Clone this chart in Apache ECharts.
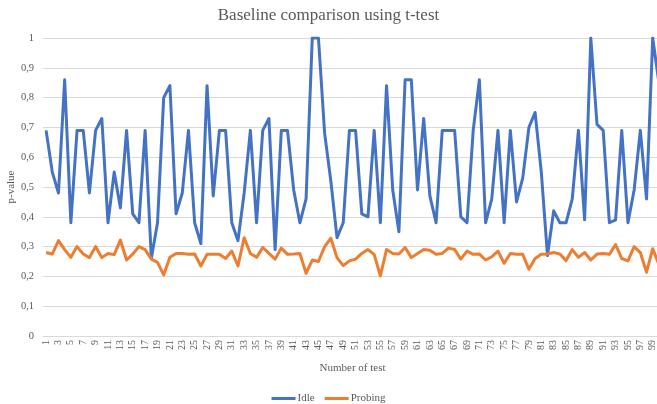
<!DOCTYPE html>
<html>
<head>
<meta charset="utf-8">
<script src="https://cdn.jsdelivr.net/npm/echarts@6/dist/echarts.min.js"></script>
<style>
html,body{margin:0;padding:0;background:#fff;overflow:hidden;}
#chart{width:657px;height:404px;}
</style>
</head>
<body>
<div id="chart"></div>
<script>
const categories = Array.from({length: 100}, (_, i) => String(i + 1));
const idle = [
0.69,0.55,0.48,0.86,0.38,0.69,0.69,0.48,0.69,0.73,
0.38,0.55,0.43,0.69,0.41,0.38,0.69,0.26,0.38,0.80,
0.84,0.41,0.48,0.69,0.38,0.31,0.84,0.47,0.69,0.69,
0.38,0.32,0.48,0.69,0.38,0.69,0.73,0.29,0.69,0.69,
0.49,0.38,0.46,1.00,1.00,0.68,0.52,0.33,0.38,0.69,
0.69,0.41,0.40,0.69,0.38,0.84,0.49,0.35,0.86,0.86,
0.49,0.73,0.47,0.38,0.69,0.69,0.69,0.40,0.38,0.69,
0.86,0.38,0.46,0.69,0.38,0.69,0.45,0.53,0.70,0.75,
0.55,0.27,0.42,0.38,0.38,0.46,0.69,0.39,1.00,0.71,
0.69,0.38,0.39,0.69,0.38,0.49,0.69,0.46,1.00,0.85
];
const probing = [
0.28,0.275,0.32,0.29,0.264,0.30,0.275,0.263,0.30,0.263,
0.277,0.273,0.322,0.255,0.275,0.30,0.29,0.258,0.247,0.205,
0.264,0.277,0.277,0.274,0.275,0.235,0.274,0.274,0.274,0.26,
0.285,0.235,0.33,0.277,0.264,0.297,0.277,0.258,0.295,0.274,
0.275,0.277,0.21,0.255,0.25,0.30,0.328,0.263,0.236,0.252,
0.258,0.277,0.29,0.274,0.202,0.29,0.277,0.275,0.297,0.263,
0.277,0.29,0.288,0.274,0.277,0.295,0.29,0.258,0.285,0.274,
0.275,0.255,0.266,0.285,0.244,0.277,0.274,0.274,0.224,0.26,
0.274,0.275,0.28,0.275,0.253,0.29,0.264,0.28,0.255,0.275,
0.277,0.274,0.307,0.26,0.252,0.30,0.28,0.214,0.293,0.24
];
const yTicks = ['0','0,1','0,2','0,3','0,4','0,5','0,6','0,7','0,8','0,9','1'];

const font = '"Liberation Serif", "Times New Roman", serif';
const txt = '#595959';
const chart = echarts.init(document.getElementById('chart'), null, {renderer: 'canvas'});
chart.setOption({
  animation: false,
  backgroundColor: '#fff',
  title: {
    text: 'Baseline comparison using t-test',
    left: 'center', top: 2,
    textStyle: {fontFamily: font, fontSize: 17, fontWeight: 'normal', color: txt}
  },
  legend: {
    top: 388, left: 'center',
    itemWidth: 24, itemHeight: 3, itemGap: 10,
    icon: 'rect',
    textStyle: {fontFamily: font, fontSize: 11, color: txt, padding: [0, 0, 0, -3]},
    data: ['Idle', 'Probing']
  },
  grid: {left: 43, right: -5, top: 38, bottom: 68, containLabel: false, outerBoundsMode: 'none'},
  xAxis: {
    type: 'category',
    data: categories,
    boundaryGap: true,
    name: 'Number of test',
    nameLocation: 'middle',
    nameGap: 27,
    nameMoveOverlap: false,
    nameTextStyle: {fontFamily: font, fontSize: 11, color: txt},
    axisLine: {lineStyle: {color: '#d9d9d9', width: 1}},
    axisTick: {show: false},
    axisLabel: {interval: 1, rotate: 90, fontFamily: font, fontSize: 10, color: txt, margin: 4}
  },
  yAxis: {
    type: 'value',
    min: 0, max: 1, interval: 0.1,
    name: 'p-value',
    nameLocation: 'middle',
    nameGap: 26,
    nameRotate: 90,
    nameMoveOverlap: false,
    nameTextStyle: {fontFamily: font, fontSize: 11, color: txt},
    axisLine: {show: false},
    axisTick: {show: false},
    splitLine: {lineStyle: {color: '#d9d9d9', width: 1}},
    axisLabel: {
      fontFamily: font, fontSize: 10.5, color: txt, margin: 9,
      formatter: v => yTicks[Math.round(v * 10)]
    }
  },
  series: [
    {name: 'Idle', type: 'line', data: idle, showSymbol: false, symbol: 'none',
     lineStyle: {color: '#4472C4', width: 3, join: 'round'}, itemStyle: {color: '#4472C4'}},
    {name: 'Probing', type: 'line', data: probing, showSymbol: false, symbol: 'none',
     lineStyle: {color: '#ED7D31', width: 3, join: 'round'}, itemStyle: {color: '#ED7D31'}}
  ]
});
</script>
</body>
</html>
